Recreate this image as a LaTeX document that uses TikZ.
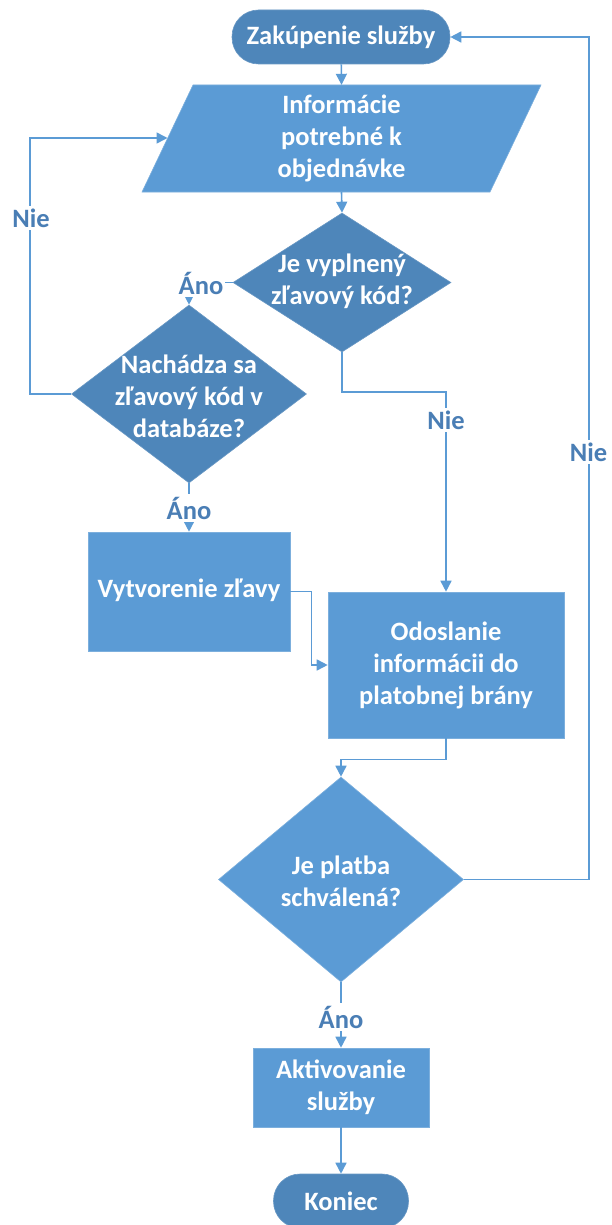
\documentclass[tikz,border=0pt]{standalone}
\usepackage{fontspec}
\setmainfont{Carlito}
\usetikzlibrary{arrows.meta,shapes.geometric,calc}
\definecolor{fillL}{HTML}{5B9BD5}
\definecolor{fillD}{HTML}{4E86BA}
\definecolor{lineC}{HTML}{5B9BD5}
\definecolor{labC}{HTML}{4A7EB5}
\begin{document}
\begin{tikzpicture}[x=1pt,y=-1pt,
  every node/.style={font=\bfseries\fontsize{26.5}{32}\selectfont, text=white, align=center, inner sep=0pt},
  term/.style={draw=fillD!85!white, fill=fillD, rounded corners=26.5pt, minimum height=54pt, line width=0.6pt},
  stepbox/.style={draw=fillL!80!white, fill=fillL, line width=0.6pt},
  decision/.style={diamond, line width=0.6pt},
  lab/.style={text=labC, fill=white, inner xsep=1.5pt, inner ysep=3pt},
  conn/.style={draw=lineC, line width=1.6pt},
  arr/.style={conn, -{Triangle[length=11pt,width=11pt]}}
]
\useasboundingbox (0,0) rectangle (611,1225);

% start terminator
\node[term, minimum width=218pt] (start) at (341,37) {Zakúpenie služby};

% input parallelogram
\fill[fillL] (193,85) -- (541,85) -- (490,192) -- (142,192) -- cycle;
\draw[fillL!80!white, line width=0.6pt] (193,85) -- (541,85) -- (490,192) -- (142,192) -- cycle;
\node[minimum width=300pt, minimum height=107pt] (info) at (341.5,138.5) {Informácie\\potrebné k\\objednávke};
\coordinate (infoW) at (167.5,138);

% first decision
\node[decision, fill=fillD, draw=fillD!85!white, minimum width=218pt, minimum height=139pt] (d1) at (342,282.5) {};
\node (d1t) at (342,281) {Je vyplnený\\zľavový kód?};

% second decision
\node[decision, fill=fillD, draw=fillD!85!white, minimum width=235pt, minimum height=178pt] (d2) at (189,394) {};
\node (d2t) at (189,396) {Nachádza sa\\zľavový kód v\\databáze?};

% process boxes
\node[stepbox, minimum width=202pt, minimum height=119pt] (vyt) at (189,591.5) {};
\node (vytt) at (189,590) {Vytvorenie zľavy};
\node[stepbox, minimum width=236pt, minimum height=146pt] (odo) at (446,665) {Odoslanie\\informácii do\\platobnej brány};

% third decision
\node[decision, fill=fillL, draw=fillL!80!white, minimum width=245pt, minimum height=205pt] (d3) at (341,879.5) {};
\node (d3t) at (341,881) {Je platba\\schválená?};

\node[stepbox, minimum width=176pt, minimum height=79pt] (akt) at (341,1087.5) {Aktivovanie\\služby};

% end terminator
\node[term, minimum width=135pt] (kon) at (341,1201) {Koniec};

% connectors
\draw[arr] (start) -- (info.north);
\draw[arr] (info.south) -- (d1.north);
\draw[arr] (d1.west) -| (d2.north);
\draw[arr] (d2.west) -- ++(-41,0) |- (infoW);
\draw[arr] (d2.south) -- (vyt.north);
\draw[arr] (d1.south) -- ++(0,39.5) -| (odo.north);
\draw[arr] (vyt.east) -- ++(21,0) |- (odo.west);
\draw[arr] (odo.south) -- ++(0,21) -| (d3.north);
\draw[arr] (d3.east) -- ++(125,0) |- (start.east);
\draw[arr] (d3.south) -- (akt.north);
\draw[arr] (akt.south) -- (kon.north);

% branch labels
\node[lab] (l1) at (201,283) {Áno};
\node[lab] (l2) at (31,218) {Nie};
\node[lab] (l3) at (189,508) {Áno};
\node[lab] (l4) at (446,420) {Nie};
\node[lab] (l5) at (588.5,452) {Nie};
\node[lab] (l6) at (341,1017) {Áno};
\end{tikzpicture}
\end{document}
